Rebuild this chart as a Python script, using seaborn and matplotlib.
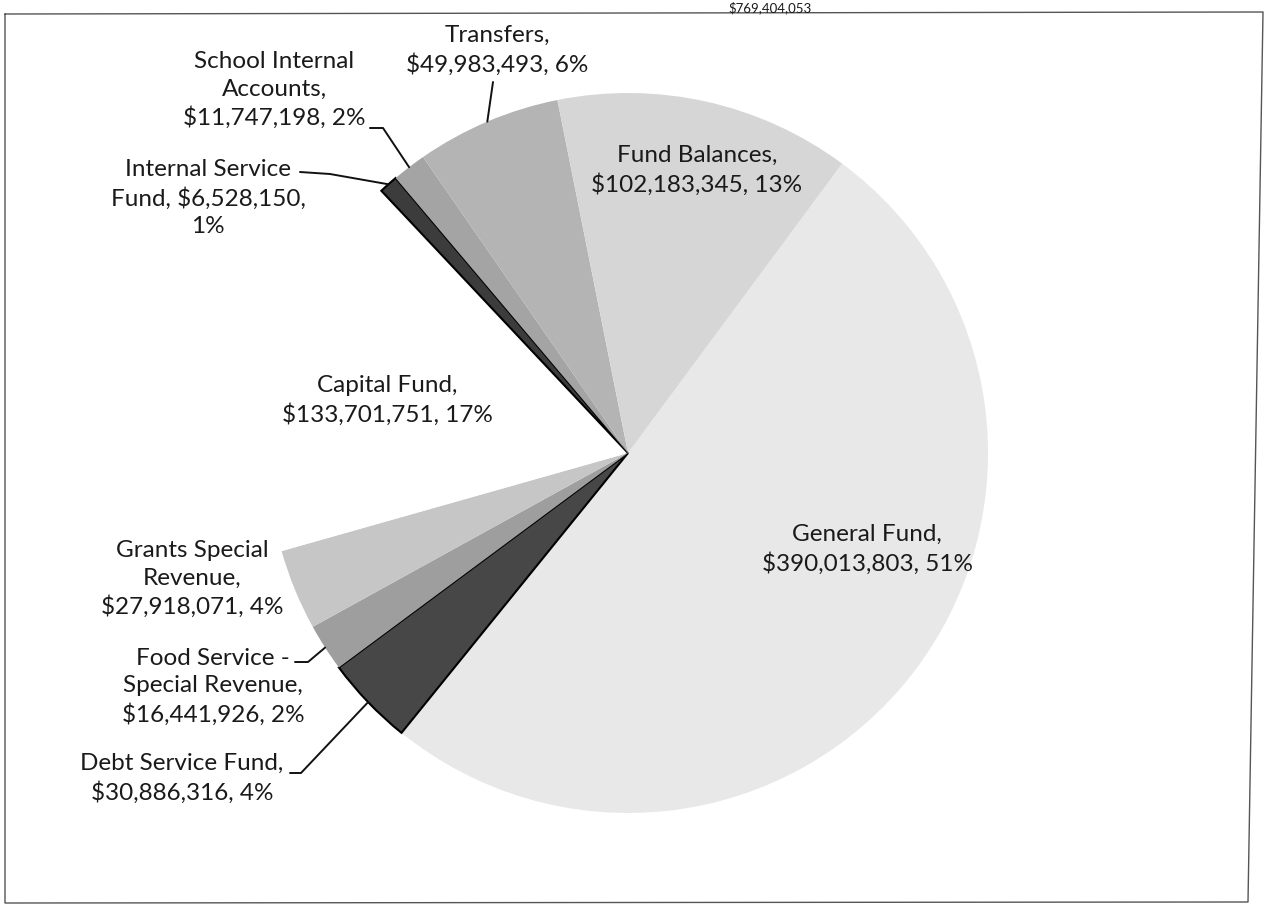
import numpy as np
import matplotlib
matplotlib.use("Agg")
import matplotlib.pyplot as plt
import seaborn as sns

# ---------------- data ----------------
categories = ["General Fund", "Debt Service Fund", "Food Service -\nSpecial Revenue",
              "Grants Special\nRevenue", "Capital Fund", "Internal Service\nFund",
              "School Internal\nAccounts", "Transfers", "Fund Balances"]
values = [390013803, 30886316, 16441926, 27918071, 133701751, 6528150,
          11747198, 49983493, 102183345]
# separators: after name / after value
sep_name = [",\n", ",\n", ",\n", ",\n", ",\n", ", ", ",\n", ",\n", ",\n"]
sep_val = [", ", ", ", ", ", ", ", ", ", ",\n", ", ", ", ", ", "]
colors = ["#e8e8e8", "#474747", "#9e9e9e", "#c6c6c6", "#ffffff", "#3c3c3c",
          "#a4a4a4", "#b4b4b4", "#d6d6d6"]
dark = [False, True, False, False, False, True, False, False, False]

# label centres (pixels, y from top) and leader start points
label_pos = [(867, 549), (182, 778), (213, 687), (192, 579), (387, 400),
             (208, 198), (274, 90), (497, 50), (697, 170)]
leader_start = [None, [(290, 773), (301, 773)], [(295, 662), (308, 662)], None, None,
                [(300, 172), (330, 174)], [(370, 128), (383, 128)],
                [(493, 82)], None]

W, H = 1266, 913
sns.set_theme(style="white")
plt.rcParams['font.family'] = ['Lato', 'DejaVu Sans']

fig = plt.figure(figsize=(W / 100, H / 100), dpi=100)
ax = fig.add_axes([0, 0, 1, 1])

cx, cy, R = 628, H - 453, 360
wedges, _ = ax.pie(values, colors=colors, startangle=53.5, counterclock=False,
                   center=(cx, cy), radius=R, frame=True,
                   wedgeprops=dict(linewidth=0))
ax.set_xlim(0, W)
ax.set_ylim(0, H)
ax.set_aspect("equal")
ax.axis("off")
for w, d in zip(wedges, dark):
    if d:
        w.set_edgecolor("black")
        w.set_linewidth(1.5)

total = sum(values)
for i, (name, v) in enumerate(zip(categories, values)):
    pct = round(100 * v / total)
    txt = f"{name}{sep_name[i]}${v:,}{sep_val[i]}{pct}%"
    x, y = label_pos[i]
    ax.text(x, H - y, txt, ha="center", va="center", fontsize=17.5,
            color="#1a1a1a", linespacing=1.38)
    if leader_start[i] is not None:
        w = wedges[i]
        mid = np.deg2rad((w.theta1 + w.theta2) / 2)
        ex, ey = cx + R * np.cos(mid), cy + R * np.sin(mid)
        xs = [p[0] for p in leader_start[i]] + [ex]
        ys = [H - p[1] for p in leader_start[i]] + [ey]
        ax.plot(xs, ys, color="#111111", lw=1.4)

# frame of the scanned chart area
fx = [5, 1263, 1248, 5, 5]
fy = [H - 14, H - 12, H - 902, H - 903, H - 14]
ax.plot(fx, fy, color="#555555", lw=1.0)

# title (total) sitting above the frame
ax.text(812, H - 1, f"${total:,}", ha="right", va="top", fontsize=9.5,
        color="#1a1a1a")

fig.savefig("out.png", dpi=100)
